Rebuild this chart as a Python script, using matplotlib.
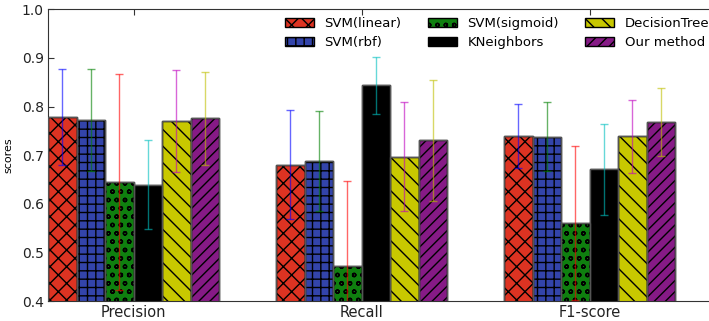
import matplotlib
matplotlib.use("Agg")
import matplotlib.pyplot as plt
import numpy as np

metrics = ["Precision", "Recall", "F1-score"]
methods = ["SVM(linear)", "SVM(rbf)", "SVM(sigmoid)", "KNeighbors", "DecisionTree", "Our method"]

# mean scores, one list per method (Precision, Recall, F1-score)
svm_linear  = [0.779, 0.681, 0.739]
svm_rbf     = [0.773, 0.688, 0.738]
svm_sigmoid = [0.645, 0.473, 0.561]
kneighbors  = [0.640, 0.844, 0.671]
dtree       = [0.770, 0.697, 0.739]
our_method  = [0.776, 0.731, 0.768]

# std (error bars)
err_linear  = [0.099, 0.112, 0.066]
err_rbf     = [0.105, 0.103, 0.071]
err_sigmoid = [0.222, 0.175, 0.159]
err_knn     = [0.092, 0.059, 0.094]
err_dtree   = [0.105, 0.112, 0.075]
err_ours    = [0.095, 0.124, 0.070]

scores = [svm_linear, svm_rbf, svm_sigmoid, kneighbors, dtree, our_method]
errors = [err_linear, err_rbf, err_sigmoid, err_knn, err_dtree, err_ours]

bar_colors = ["#dd3322", "#3344aa", "#0f7f0f", "#000000", "#c8c800", "#861a86"]
hatches = ["xx", "++", "oo", "", "\\\\", "///"]
err_colors = ["b", "g", "r", "c", "m", "y"]

fig = plt.figure(figsize=(7.09, 3.21), dpi=100)
ax = fig.add_axes([48 / 709, 19.7 / 321, 684 / 709, 292 / 321])

w = 0.125
idx = np.arange(len(metrics))
for i in range(len(methods)):
    x = idx + i * w
    ax.bar(x, scores[i], w, align="edge", color=bar_colors[i], hatch=hatches[i],
           edgecolor="black", linewidth=1, label=methods[i], zorder=2)
    ax.bar(x, scores[i], w, align="edge", fill=False, edgecolor="#555555",
           linewidth=1, zorder=3)
    ax.errorbar(x + w / 2, scores[i], yerr=errors[i], fmt="none",
                ecolor=err_colors[i], alpha=0.6, capsize=3, elinewidth=1, zorder=4)

ax.set_xlim(0, 3)
ax.set_ylim(0.4, 1.0)
ax.set_xticks(idx + 3 * w)
ax.set_xticklabels(metrics, fontsize=10.5)
ax.set_yticks(np.arange(0.4, 1.01, 0.1))
ax.set_yticklabels(["%.1f" % v for v in np.arange(0.4, 1.01, 0.1)], fontsize=10)
ax.tick_params(direction="in", top=True, right=True, length=4, color="#333333",
               labelcolor="#222222", pad=3)
ax.set_ylabel("scores", fontsize=8)
ax.yaxis.set_label_coords(-0.05, 0.5)
for s in ax.spines.values():
    s.set_color("#333333")

ax.legend(loc="upper left", bbox_to_anchor=(285 / 709, 1 - 17 / 321),
          bbox_transform=fig.transFigure, ncol=3, frameon=False, borderpad=0,
          borderaxespad=0, fontsize=9.5, handlelength=2.2, columnspacing=2.0,
          handletextpad=0.8, labelspacing=0.45)

fig.savefig("out.png", dpi=100)
